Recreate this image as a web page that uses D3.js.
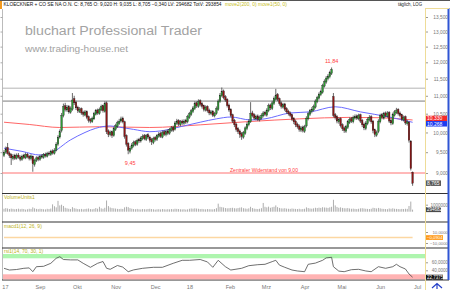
<!DOCTYPE html>
<html>
<head>
<meta charset="utf-8">
<script src="https://cdn.jsdelivr.net/npm/d3@7/dist/d3.min.js"></script>
<style>
  body { margin: 0; background: #fff; }
  svg text { font-family: "Liberation Sans", Arial, sans-serif; }
</style>
</head>
<body>
<div id="chart"></div>
<script>
// Daily candles (one value per trading day, Aug 2017 - Jun 2018)
var opens = [
  9.42, 9.50, 9.62, 9.48, 9.44, 9.34, 9.42, 9.35, 9.43, 9.38,
  9.32, 9.42, 9.36, 9.45, 9.40, 9.34, 9.40, 9.20, 9.30, 9.37,
  9.32, 9.41, 9.37, 9.45, 9.40, 9.48, 9.44, 9.53, 9.47, 9.55,
  9.70, 9.88, 10.05, 10.45, 10.72, 10.60, 10.70, 10.54, 10.62, 10.92,
  10.82, 10.68, 10.56, 10.64, 10.54, 10.46, 10.56, 10.42, 10.34, 10.28,
  10.36, 10.48, 10.60, 10.50, 10.60, 10.72, 10.56, 10.80, 10.04, 9.94,
  10.02, 9.92, 10.08, 10.16, 10.24, 10.30, 10.38, 10.28, 9.92, 9.72,
  9.52, 9.60, 9.66, 9.76, 9.70, 9.82, 9.78, 9.84, 9.92, 9.82,
  9.94, 9.88, 9.82, 9.74, 9.87, 9.82, 9.90, 9.98, 9.88, 10.02,
  9.94, 10.04, 9.98, 10.06, 10.14, 10.08, 10.24, 10.32, 10.20, 10.30,
  10.24, 10.32, 10.28, 10.40, 10.48, 10.56, 10.64, 10.80, 10.70, 10.86,
  10.78, 10.72, 10.60, 10.70, 10.60, 10.50, 10.57, 10.44, 10.50, 10.62,
  10.84, 11.00, 11.14, 10.97, 10.90, 10.74, 10.62, 10.47, 10.32, 10.22,
  10.10, 10.04, 9.97, 9.88, 9.98, 10.10, 10.20, 10.28, 10.52, 10.47,
  10.36, 10.44, 10.33, 10.38, 10.44, 10.54, 10.46, 10.58, 10.74, 10.64,
  10.78, 10.90, 11.04, 10.92, 10.80, 10.68, 10.77, 10.64, 10.57, 10.52,
  10.47, 10.37, 10.30, 10.22, 10.17, 10.06, 10.14, 10.03, 10.17, 10.36,
  10.48, 10.56, 10.60, 10.68, 10.83, 10.93, 11.03, 11.10, 11.28, 11.40,
  11.50, 11.56, 11.66, 10.98, 10.47, 10.42, 10.28, 10.37, 10.20, 10.12,
  10.03, 10.13, 10.26, 10.37, 10.28, 10.38, 10.44, 10.36, 10.47, 10.32,
  10.22, 10.10, 10.23, 10.33, 10.42, 10.30, 10.07, 9.93, 10.02, 10.28,
  10.47, 10.38, 10.52, 10.43, 10.54, 10.32, 10.23, 10.46, 10.53, 10.62,
  10.52, 10.47, 10.33, 10.42, 10.23, 10.27, 9.78, 9.02
];
var highs = [
  9.55, 9.64, 9.73, 9.52, 9.47, 9.45, 9.46, 9.47, 9.48, 9.42,
  9.44, 9.46, 9.49, 9.48, 9.43, 9.45, 9.42, 9.34, 9.40, 9.41,
  9.44, 9.45, 9.48, 9.49, 9.51, 9.52, 9.56, 9.57, 9.60, 9.75,
  9.93, 10.08, 10.52, 10.78, 10.80, 10.74, 10.74, 10.70, 11.08, 11.00,
  10.86, 10.72, 10.68, 10.67, 10.58, 10.60, 10.59, 10.45, 10.38, 10.42,
  10.55, 10.63, 10.64, 10.67, 10.75, 10.75, 10.84, 10.84, 10.08, 10.05,
  10.05, 10.15, 10.23, 10.31, 10.36, 10.42, 10.42, 10.31, 9.95, 9.75,
  9.65, 9.73, 9.79, 9.80, 9.84, 9.86, 9.90, 9.95, 9.96, 9.96,
  9.98, 9.92, 9.86, 9.89, 9.91, 9.96, 10.01, 10.02, 10.05, 10.06,
  10.07, 10.08, 10.12, 10.17, 10.18, 10.30, 10.36, 10.35, 10.33, 10.34,
  10.35, 10.36, 10.47, 10.55, 10.63, 10.71, 10.84, 10.84, 10.90, 10.90,
  10.82, 10.75, 10.73, 10.73, 10.64, 10.60, 10.60, 10.55, 10.70, 10.90,
  11.08, 11.24, 11.18, 11.02, 10.93, 10.78, 10.65, 10.50, 10.36, 10.26,
  10.14, 10.08, 10.01, 10.04, 10.16, 10.27, 10.35, 10.82, 10.58, 10.51,
  10.47, 10.48, 10.45, 10.51, 10.57, 10.58, 10.65, 10.78, 10.78, 10.86,
  10.98, 11.20, 11.08, 10.95, 10.84, 10.80, 10.80, 10.68, 10.61, 10.56,
  10.50, 10.41, 10.34, 10.26, 10.21, 10.17, 10.18, 10.20, 10.43, 10.55,
  10.63, 10.68, 10.75, 10.90, 11.00, 11.10, 11.18, 11.35, 11.48, 11.58,
  11.64, 11.74, 11.84, 11.08, 10.52, 10.46, 10.40, 10.40, 10.24, 10.16,
  10.20, 10.33, 10.40, 10.41, 10.45, 10.48, 10.48, 10.50, 10.50, 10.36,
  10.26, 10.30, 10.40, 10.46, 10.46, 10.33, 10.10, 10.05, 10.35, 10.50,
  10.52, 10.55, 10.56, 10.57, 10.57, 10.36, 10.53, 10.60, 10.66, 10.65,
  10.56, 10.50, 10.45, 10.45, 10.33, 10.30, 9.80, 9.035
];
var lows = [
  9.38, 9.46, 9.44, 9.36, 9.19, 9.30, 9.31, 9.32, 9.34, 9.28,
  9.29, 9.33, 9.33, 9.35, 9.30, 9.30, 9.03, 9.15, 9.26, 9.28,
  9.29, 9.34, 9.34, 9.37, 9.37, 9.41, 9.41, 9.44, 9.44, 9.52,
  9.66, 9.84, 10.00, 10.40, 10.56, 10.55, 10.50, 10.50, 10.58, 10.74,
  10.60, 10.52, 10.52, 10.47, 10.42, 10.43, 10.35, 10.26, 10.24, 10.25,
  10.33, 10.45, 10.47, 10.47, 10.57, 10.53, 10.53, 9.96, 9.88, 9.90,
  9.86, 9.89, 10.04, 10.12, 10.20, 10.26, 10.24, 9.84, 9.64, 9.45,
  9.47, 9.56, 9.62, 9.65, 9.66, 9.73, 9.74, 9.80, 9.80, 9.78,
  9.83, 9.74, 9.68, 9.70, 9.77, 9.78, 9.86, 9.86, 9.85, 9.91,
  9.90, 9.93, 9.94, 10.02, 10.01, 10.05, 10.20, 10.17, 10.16, 10.20,
  10.20, 10.22, 10.24, 10.36, 10.44, 10.52, 10.60, 10.66, 10.66, 10.70,
  10.64, 10.56, 10.56, 10.53, 10.46, 10.46, 10.41, 10.40, 10.47, 10.58,
  10.80, 10.96, 10.90, 10.83, 10.67, 10.55, 10.40, 10.25, 10.14, 10.02,
  9.96, 9.86, 9.81, 9.84, 9.94, 10.06, 10.16, 10.25, 10.40, 10.33,
  10.32, 10.30, 10.29, 10.34, 10.40, 10.43, 10.42, 10.54, 10.60, 10.60,
  10.74, 10.86, 10.85, 10.72, 10.64, 10.64, 10.57, 10.50, 10.45, 10.40,
  10.30, 10.22, 10.14, 10.10, 10.02, 10.01, 10.00, 9.99, 10.13, 10.32,
  10.44, 10.51, 10.56, 10.64, 10.79, 10.89, 10.99, 11.06, 11.24, 11.35,
  11.45, 11.51, 11.61, 10.40, 10.34, 10.24, 10.23, 10.13, 10.04, 9.99,
  9.99, 10.09, 10.22, 10.25, 10.24, 10.34, 10.33, 10.32, 10.25, 10.14,
  10.06, 10.06, 10.19, 10.29, 10.23, 9.98, 9.88, 9.89, 9.98, 10.24,
  10.35, 10.34, 10.40, 10.39, 10.25, 10.19, 10.20, 10.42, 10.49, 10.45,
  10.40, 10.30, 10.29, 10.20, 10.18, 9.74, 9.06, 8.705
];
var closes = [
  9.50, 9.58, 9.47, 9.42, 9.36, 9.40, 9.35, 9.42, 9.38, 9.33,
  9.40, 9.37, 9.44, 9.39, 9.35, 9.41, 9.22, 9.30, 9.36, 9.33,
  9.40, 9.38, 9.44, 9.41, 9.47, 9.45, 9.52, 9.48, 9.55, 9.70,
  9.88, 10.02, 10.45, 10.70, 10.62, 10.68, 10.55, 10.64, 10.88, 10.80,
  10.66, 10.58, 10.62, 10.52, 10.48, 10.55, 10.40, 10.32, 10.30, 10.38,
  10.50, 10.58, 10.52, 10.62, 10.70, 10.58, 10.78, 10.02, 9.95, 10.00,
  9.92, 10.10, 10.18, 10.26, 10.30, 10.36, 10.28, 9.90, 9.70, 9.55,
  9.60, 9.68, 9.74, 9.70, 9.80, 9.78, 9.86, 9.90, 9.84, 9.92,
  9.88, 9.80, 9.76, 9.85, 9.82, 9.92, 9.96, 9.90, 10.00, 9.95,
  10.02, 9.98, 10.08, 10.12, 10.06, 10.25, 10.30, 10.22, 10.28, 10.25,
  10.30, 10.27, 10.42, 10.50, 10.58, 10.66, 10.78, 10.72, 10.84, 10.76,
  10.70, 10.62, 10.68, 10.58, 10.52, 10.55, 10.46, 10.50, 10.64, 10.85,
  11.02, 11.12, 10.95, 10.88, 10.72, 10.60, 10.45, 10.30, 10.20, 10.08,
  10.02, 9.95, 9.90, 10.00, 10.12, 10.22, 10.30, 10.50, 10.45, 10.38,
  10.42, 10.35, 10.40, 10.46, 10.52, 10.48, 10.60, 10.72, 10.66, 10.80,
  10.92, 11.02, 10.90, 10.78, 10.70, 10.75, 10.62, 10.55, 10.50, 10.45,
  10.35, 10.28, 10.20, 10.15, 10.08, 10.12, 10.05, 10.15, 10.38, 10.50,
  10.58, 10.62, 10.70, 10.85, 10.95, 11.05, 11.12, 11.30, 11.42, 11.52,
  11.58, 11.68, 11.78, 10.45, 10.40, 10.30, 10.35, 10.18, 10.10, 10.05,
  10.15, 10.28, 10.35, 10.30, 10.40, 10.42, 10.38, 10.45, 10.30, 10.20,
  10.12, 10.25, 10.35, 10.40, 10.28, 10.05, 9.95, 10.00, 10.30, 10.45,
  10.40, 10.50, 10.45, 10.52, 10.30, 10.25, 10.48, 10.55, 10.60, 10.50,
  10.45, 10.35, 10.40, 10.25, 10.28, 9.80, 9.105, 8.765
];
// volume in thousands of shares
var volumes = [
  420, 510, 460, 380, 440, 400, 350, 390, 430, 360,
  410, 380, 300, 350, 420, 390, 620, 480, 400, 370,
  420, 390, 350, 330, 410, 380, 450, 1050, 780, 620,
  1550, 900, 1000, 820, 560, 480, 420, 380, 650, 500,
  440, 380, 360, 400, 340, 390, 420, 460, 380, 350,
  400, 520, 430, 700, 480, 420, 560, 1600, 800, 600,
  520, 480, 450, 400, 380, 420, 390, 620, 700, 650,
  500, 430, 380, 360, 400, 350, 330, 380, 360, 340,
  390, 420, 380, 350, 300, 340, 360, 330, 380, 350,
  320, 360, 340, 380, 350, 420, 400, 380, 350, 330,
  360, 300, 340, 420, 460, 430, 480, 450, 420, 380,
  400, 360, 340, 380, 360, 350, 330, 380, 500, 1150,
  700, 650, 600, 520, 480, 500, 540, 560, 500, 470,
  520, 580, 620, 500, 460, 420, 480, 700, 520, 440,
  400, 380, 420, 500, 1250, 700, 620, 720, 560, 640,
  700, 900, 650, 540, 480, 460, 500, 440, 420, 400,
  460, 420, 400, 380, 420, 360, 380, 420, 620, 520,
  460, 430, 480, 560, 520, 580, 540, 640, 600, 580,
  540, 620, 700, 1700, 900, 680, 560, 620, 540, 500,
  480, 520, 460, 420, 440, 400, 380, 420, 480, 500,
  460, 420, 400, 380, 420, 560, 520, 460, 540, 480,
  420, 400, 380, 360, 460, 420, 480, 420, 400, 380,
  360, 400, 380, 420, 400, 820, 1450, 294.682
];

// moving averages, sampled along the chart (day index, value)
var ma200Idx = [0, 14, 31, 53, 81, 109, 137, 164, 192, 209, 227];
var ma200Val = [10.27, 10.21, 10.13, 10.15, 10.13, 10.20, 10.29, 10.36, 10.40, 10.39, 10.33];
var ma50Idx = [0, 10, 20, 26, 37, 45, 51, 59, 64, 72, 81, 87, 98, 109, 118, 126, 137, 145, 159, 170, 184, 198, 214, 227];
var ma50Val = [9.60, 9.52, 9.43, 9.48, 9.81, 10.00, 10.11, 10.17, 10.14, 10.08, 10.02, 10.04, 10.15, 10.27, 10.36, 10.41, 10.33, 10.36, 10.52, 10.55, 10.69, 10.55, 10.41, 10.268];

// indicators
var rsiIdx = [0, 3, 7, 11, 14, 16, 18, 22, 26, 29, 31, 33, 37, 41, 44, 48, 52, 55, 57, 59,
  63, 66, 69, 72, 77, 83, 88, 94, 99, 103, 109, 113, 116, 119, 123, 126, 132, 136, 141, 145,
  149, 151, 153, 156, 160, 163, 167, 169, 173, 177, 179, 182, 183, 186, 189, 193, 197, 201, 204, 208,
  212, 216, 218, 220, 223, 225, 227];
var rsiVal = [45, 40.7, 42, 45, 46, 36.5, 49, 50, 57.5, 70, 74, 67, 66, 66, 57.5, 47.5, 57.5, 62, 45, 42.5,
  52, 48, 36.5, 41, 45, 47.5, 47.5, 57.5, 65, 65, 67, 61, 47.5, 65, 49, 40.7, 45, 51.5, 54, 55,
  61.7, 65, 53, 47.5, 40.7, 38.3, 36.5, 55, 58, 65, 71, 72.5, 49, 38, 36.5, 41.5, 42.5, 38.3, 36.5, 49,
  45, 49, 55, 49, 43.3, 30.8, 22.7375];
var macdIdx = [0, 40, 80, 120, 160, 200, 227];
var macdVal = [0.05, 0.12, 0.02, 0.10, 0.08, 0.04, -0.0904];

var priceTicks = [9, 9.5, 10, 10.5, 11, 11.5, 12, 12.5, 13, 13.5];
var monthIdx = [0.5, 20, 40.5, 62, 84, 103, 125.5, 145.5, 167, 187.5, 209, 229.5];
var monthLabels = ["17", "Sep", "Okt", "Nov", "Dec", "18", "Feb", "Mrz", "Apr", "Mai", "Jun", "Jul"];
var resistLevels = [11.22, 10.85];
var supportLevel = 9.00;
var rsiBands = [70, 30];

var last = closes.length - 1;
var de = d3.formatLocale({decimal: ",", thousands: ".", grouping: [3], currency: ["", " €"]});
var f3 = de.format(".3f"), f4 = de.format(".4f"), f2 = de.format(".2f");

var svg = d3.select("#chart").append("svg")
  .attr("width", 450)
  .attr("height", 290);

// Scales
var x = d3.scaleLinear().domain([0, last]).range([4, 412.6]);
var y = d3.scaleLog().domain([9, 13.5]).range([173, 17]);
var yVol = d3.scaleLinear().domain([0, 1000]).range([211.7, 204.7]);
var yMacd = d3.scaleLinear().domain([-10, 10]).range([243, 232]);
var yRsi = d3.scaleLinear().domain([17.5, 80.75]).range([279.3, 254]);

var plotL = 2, plotR = 425;

// Frames
svg.append("line").attr("x1", 0).attr("x2", 450).attr("y1", 0.5).attr("y2", 0.5).attr("stroke", "#555");
svg.append("rect").attr("x", 0).attr("y", 1).attr("width", 2).attr("height", 8).attr("fill", "#f39a1e");
svg.append("line").attr("x1", 2.5).attr("x2", 2.5).attr("y1", 9).attr("y2", 280).attr("stroke", "#bbb");
[193.5, 222, 248, 280].forEach(function(yy) {
  svg.append("line").attr("x1", 2).attr("x2", 449).attr("y1", yy).attr("y2", yy)
    .attr("stroke", "#333").attr("stroke-width", 1.2);
});
svg.append("line").attr("x1", plotR + 0.5).attr("x2", plotR + 0.5).attr("y1", 8).attr("y2", 290)
  .attr("stroke", "#eedc98");
svg.append("line").attr("x1", 448.5).attr("x2", 448.5).attr("y1", 8).attr("y2", 280)
  .attr("stroke", "#2f55d4").attr("stroke-width", 2);
svg.append("line").attr("x1", plotR).attr("x2", 449).attr("y1", 8.5).attr("y2", 8.5).attr("stroke", "#eedc98");

// Header texts
svg.append("text").attr("x", 3.5).attr("y", 6.3).attr("font-size", 5).attr("fill", "#111")
  .attr("textLength", 218).attr("lengthAdjust", "spacingAndGlyphs")
  .text("KLOECKNER + CO SE NA O.N. C: " + f3(closes[last]) + " O: " + f3(opens[last]) +
        " H: " + f3(highs[last]) + " L: " + f3(lows[last]) + " " + f3(closes[last] - closes[last - 1]) +
        " LV: " + Math.round(volumes[last] * 1000) + " TotV: 293854");
svg.append("text").attr("x", 225).attr("y", 6.3).attr("font-size", 5).attr("fill", "#c6bd22")
  .attr("textLength", 62).attr("lengthAdjust", "spacingAndGlyphs")
  .text("move2(200, 0) move1(50, 0)");
svg.append("text").attr("x", 398).attr("y", 6.3).attr("font-size", 5).attr("fill", "#222")
  .attr("textLength", 24).attr("lengthAdjust", "spacingAndGlyphs")
  .text("täglich, LOG");

// Watermark
svg.append("text").attr("x", 25).attr("y", 35).attr("font-size", 12.5).attr("fill", "#a3a3a3")
  .attr("textLength", 177).attr("lengthAdjust", "spacingAndGlyphs")
  .text("bluchart Professional Trader");
svg.append("text").attr("x", 25).attr("y", 52).attr("font-size", 9.5).attr("fill", "#a3a3a3")
  .attr("textLength", 103).attr("lengthAdjust", "spacingAndGlyphs")
  .text("www.trading-house.net");

// Main chart group (clipped)
svg.append("clipPath").attr("id", "mainClip").append("rect")
  .attr("x", plotL).attr("y", 9).attr("width", plotR - plotL).attr("height", 184);
var main = svg.append("g").attr("clip-path", "url(#mainClip)");

// horizontal resistance lines
main.selectAll(".res").data(resistLevels).enter().append("line")
  .attr("x1", plotL).attr("x2", plotR)
  .attr("y1", function(d) { return y(d); }).attr("y2", function(d) { return y(d); })
  .attr("stroke", "#b4b4b4").attr("stroke-width", function(d, k) { return k == 0 ? 1 : 1.8; });

main.append("line").attr("x1", plotL).attr("x2", plotR)
  .attr("y1", y(supportLevel)).attr("y2", y(supportLevel))
  .attr("stroke", "#ff7373").attr("stroke-width", 1);
main.append("text").attr("x", 298).attr("y", y(supportLevel) - 1.3).attr("text-anchor", "end")
  .attr("font-size", 5).attr("fill", "#ff3c3c")
  .attr("textLength", 68).attr("lengthAdjust", "spacingAndGlyphs")
  .text("Zentraler Widerstand von " + f2(supportLevel));

// moving averages
var maLine = d3.line()
  .x(function(d) { return x(d[0]); })
  .y(function(d) { return y(d[1]); })
  .curve(d3.curveMonotoneX);
main.append("path").datum(d3.zip(ma200Idx, ma200Val)).attr("d", maLine)
  .attr("fill", "none").attr("stroke", "#ff6666").attr("stroke-width", 1);
main.append("path").datum(d3.zip(ma50Idx, ma50Val)).attr("d", maLine)
  .attr("fill", "none").attr("stroke", "#6b6bff").attr("stroke-width", 1);

// Candles
var candles = d3.range(closes.length).map(function(i) {
  return {i: i, o: opens[i], h: highs[i], l: lows[i], c: closes[i], v: volumes[i]};
});
var cg = main.selectAll(".candle").data(candles).enter().append("g");
cg.append("line")
  .attr("x1", function(d) { return x(d.i); }).attr("x2", function(d) { return x(d.i); })
  .attr("y1", function(d) { return y(d.h); }).attr("y2", function(d) { return y(d.l); })
  .attr("stroke", "#2a2a2a").attr("stroke-width", 0.7);
cg.append("rect")
  .attr("x", function(d) { return x(d.i) - 0.8; })
  .attr("width", 1.6)
  .attr("y", function(d) { return y(Math.max(d.o, d.c)); })
  .attr("height", function(d) { return Math.max(0.6, Math.abs(y(d.o) - y(d.c))); })
  .attr("fill", function(d) { return d.c >= d.o ? "#2f9a35" : "#8e1616"; })
  .attr("stroke", "#1a1a1a").attr("stroke-width", 0.3);

// high / low annotations
var hiIdx = highs.indexOf(d3.max(highs.slice(150)));
var loIdx = 69;
main.append("text").attr("x", x(hiIdx)).attr("y", y(highs[hiIdx]) - 4).attr("text-anchor", "middle")
  .attr("font-size", 5.5).attr("fill", "#ff3c3c").text(f2(highs[hiIdx]));
main.append("text").attr("x", x(loIdx) + 2).attr("y", y(lows[loIdx]) + 11).attr("text-anchor", "middle")
  .attr("font-size", 5.5).attr("fill", "#ff3c3c").text(f2(lows[loIdx]));

// Right price axis
var rightAxis = d3.axisRight(y).tickValues(priceTicks).tickFormat(f3).tickSize(2);
var ra = svg.append("g").attr("transform", "translate(" + (plotR + 1) + ",0)").call(rightAxis);
ra.select(".domain").remove();
ra.selectAll("line").attr("stroke", "#999");
ra.selectAll("text").attr("x", 22).attr("text-anchor", "end").attr("font-size", 4.8).attr("fill", "#777");

// left tick marks
var leftAxis = d3.axisLeft(y).tickValues(priceTicks).tickFormat("").tickSize(2);
var la = svg.append("g").attr("transform", "translate(2.5,0)").call(leftAxis);
la.select(".domain").remove();
la.selectAll("line").attr("stroke", "#aaa");

// value boxes on the right axis
function valueBox(yy, txt, bg, fg, w, fs) {
  fs = fs || 5;
  svg.append("rect").attr("x", plotR + 1).attr("y", yy - fs * 0.55).attr("width", w).attr("height", fs * 1.1).attr("fill", bg);
  svg.append("text").attr("x", plotR + 2).attr("y", yy + fs * 0.35).attr("font-size", fs).attr("fill", fg).text(txt);
}
valueBox(y(ma200Val[ma200Val.length - 1]) - 1.5, f3(ma200Val[ma200Val.length - 1]), "#f52a2a", "#fff", 21);
valueBox(y(ma50Val[ma50Val.length - 1]) + 1.5, f3(ma50Val[ma50Val.length - 1]), "#1d3cf0", "#fff", 21);
valueBox(y(closes[last]), f3(closes[last]), "#585858", "#fff", 15);

// Volume panel
svg.append("text").attr("x", 4).attr("y", 199).attr("font-size", 5).attr("fill", "#bdb31c").text("VolumeUnits1");
svg.selectAll(".vol").data(candles).enter().append("rect")
  .attr("x", function(d) { return x(d.i) - 0.45; })
  .attr("width", 0.9)
  .attr("y", function(d) { return yVol(d.v); })
  .attr("height", function(d) { return yVol(0) - yVol(d.v); })
  .attr("fill", "#a5a5a5");
var volAxis = d3.axisRight(yVol).tickValues([1000]).tickFormat(function(d) { return d * 1000; }).tickSize(2);
var va = svg.append("g").attr("transform", "translate(" + (plotR + 1) + ",0)").call(volAxis);
va.select(".domain").remove();
va.selectAll("line").attr("stroke", "#999");
va.selectAll("text").attr("x", 22).attr("text-anchor", "end").attr("font-size", 4.5).attr("fill", "#777");
valueBox(yVol(volumes[last]), Math.round(volumes[last] * 1000), "#4a4a4a", "#fff", 15, 4.5);

// MACD panel
svg.append("text").attr("x", 4).attr("y", 228).attr("font-size", 5).attr("fill", "#bdb31c").text("macd1(12, 26, 9)");
svg.append("path").datum(d3.zip(macdIdx, macdVal))
  .attr("d", d3.line().x(function(d) { return x(d[0]); }).y(function(d) { return yMacd(d[1]); }))
  .attr("fill", "none").attr("stroke", "#fcd7a2").attr("stroke-width", 1.6);
var macdAxis = d3.axisRight(yMacd).tickValues([10, -10]).tickFormat(f4).tickSize(2);
var ma = svg.append("g").attr("transform", "translate(" + (plotR + 1) + ",0)").call(macdAxis);
ma.select(".domain").remove();
ma.selectAll("line").attr("stroke", "#999");
ma.selectAll("text").attr("x", 22).attr("text-anchor", "end").attr("font-size", 4.3).attr("fill", "#777");
valueBox(yMacd(macdVal[macdVal.length - 1]), f4(macdVal[macdVal.length - 1]), "#ff9a1a", "#fff", 17, 4.3);

// RSI panel
svg.append("rect").attr("x", plotL + 1).attr("width", plotR - plotL - 1)
  .attr("y", yRsi.range()[1]).attr("height", yRsi(rsiBands[0]) - yRsi.range()[1]).attr("fill", "#aef5ae");
svg.append("rect").attr("x", plotL + 1).attr("width", plotR - plotL - 1)
  .attr("y", yRsi(rsiBands[1])).attr("height", yRsi.range()[0] - yRsi(rsiBands[1])).attr("fill", "#ffb3b3");
svg.append("text").attr("x", 4).attr("y", 253).attr("font-size", 5).attr("fill", "#bdb31c").text("rsi1(14, 70, 30, 1)");
svg.append("path").datum(d3.zip(rsiIdx, rsiVal))
  .attr("d", d3.line().x(function(d) { return x(d[0]); }).y(function(d) { return yRsi(d[1]); }))
  .attr("fill", "none").attr("stroke", "#4a4a4a").attr("stroke-width", 0.8);
var rsiAxis = d3.axisRight(yRsi).tickValues([60, 40]).tickFormat(f4).tickSize(2);
var rsa = svg.append("g").attr("transform", "translate(" + (plotR + 1) + ",0)").call(rsiAxis);
rsa.select(".domain").remove();
rsa.selectAll("line").attr("stroke", "#999");
rsa.selectAll("text").attr("x", 22).attr("text-anchor", "end").attr("font-size", 4.5).attr("fill", "#777");
valueBox(yRsi(rsiVal[rsiVal.length - 1]), f4(rsiVal[rsiVal.length - 1]), "#111", "#fff", 17, 4.5);

// X axis (months)
var bottomAxis = d3.axisBottom(x).tickValues(monthIdx)
  .tickFormat(function(d, k) { return monthLabels[k]; }).tickSize(0);
var xa = svg.append("g").attr("transform", "translate(0,281)").call(bottomAxis);
xa.select(".domain").remove();
xa.selectAll("text").attr("font-size", 5.5).attr("fill", "#777").attr("dy", "0.9em");

// little icon bottom right
svg.append("path").attr("d", "M432,288 L437,283.5 L442,288 M437,283.5 L437,289")
  .attr("fill", "none").attr("stroke", "#2540c8").attr("stroke-width", 1.2);
</script>
</body>
</html>
